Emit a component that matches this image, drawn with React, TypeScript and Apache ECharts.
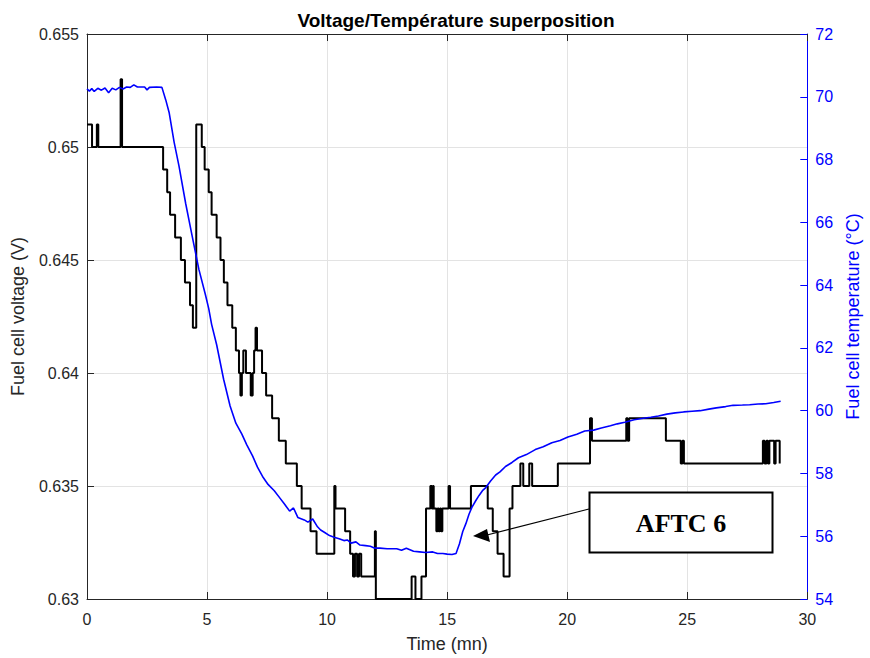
import React, { useEffect, useRef } from "react";
import * as echarts from "echarts";

// Fuel cell voltage (V) — change points (value holds until next time)
const voltTime = [
  0, 0.21, 0.41, 0.47, 1.4, 1.46, 3.17, 3.34, 3.46, 3.67, 3.91, 4.08, 4.29, 4.41,
  4.55, 4.78, 4.9, 5.07, 5.19, 5.4, 5.56, 5.7, 5.85, 6.05, 6.2, 6.33, 6.39, 6.45,
  6.51, 6.62, 6.82, 6.9, 6.96, 7.02, 7.08, 7.29, 7.46, 7.71, 7.99, 8.28, 8.74,
  8.94, 9.31, 9.56, 10.3, 10.35, 10.75, 10.96, 11.08, 11.16, 11.25, 11.33, 11.42,
  11.99, 12.03, 13.52, 13.68, 13.93, 14.12, 14.3, 14.36, 14.4, 14.44, 14.55, 14.6,
  14.65, 14.7, 14.75, 14.8, 15.06, 15.12, 15.99, 16.69, 16.9, 17.1, 17.35, 17.6,
  17.72, 18.05, 18.17, 18.42, 18.54, 19.61, 20.95, 21.03, 22.46, 22.52, 22.58,
  24.11, 24.73, 24.8, 24.86, 28.15, 28.22, 28.3, 28.36, 28.42, 28.62, 28.68,
  28.85, 28.87,
];
const voltValue = [
  0.651, 0.65, 0.651, 0.65, 0.653, 0.65, 0.649, 0.648, 0.647, 0.646, 0.645, 0.644,
  0.643, 0.642, 0.651, 0.65, 0.649, 0.648, 0.647, 0.646, 0.645, 0.644, 0.643,
  0.642, 0.641, 0.64, 0.639, 0.64, 0.641, 0.64, 0.639, 0.64, 0.641, 0.642, 0.641,
  0.64, 0.639, 0.638, 0.637, 0.636, 0.635, 0.634, 0.633, 0.632, 0.635, 0.634,
  0.633, 0.632, 0.631, 0.632, 0.631, 0.632, 0.631, 0.633, 0.63, 0.631, 0.63,
  0.631, 0.634, 0.635, 0.634, 0.635, 0.634, 0.633, 0.634, 0.633, 0.634, 0.633,
  0.634, 0.635, 0.634, 0.635, 0.634, 0.633, 0.632, 0.631, 0.634, 0.635, 0.636,
  0.635, 0.636, 0.635, 0.636, 0.638, 0.637, 0.638, 0.637, 0.638, 0.637, 0.636,
  0.637, 0.636, 0.637, 0.636, 0.637, 0.636, 0.637, 0.636, 0.637, 0.636, 0.636,
];

// Fuel cell temperature (°C)
const tempTime = [
  0, 0.1, 0.2, 0.3, 0.45, 0.6, 0.75, 0.9, 1.05, 1.2, 1.35, 1.5, 1.65, 1.8, 1.95,
  2.1, 2.4, 2.5, 2.6, 2.9, 3.12, 3.28, 3.42, 3.63, 3.83, 4.11, 4.37, 4.66, 4.93,
  5.07, 5.19, 5.4, 5.69, 5.96, 6.2, 6.45, 6.65, 6.9, 7.1, 7.34, 7.54, 7.8, 8.02,
  8.2, 8.44, 8.6, 8.78, 9.05, 9.2, 9.4, 9.6, 9.73, 9.9, 10.1, 10.29, 10.5, 10.7,
  10.84, 11.0, 11.2, 11.37, 11.6, 11.8, 11.99, 12.2, 12.5, 12.9, 13.1, 13.3, 13.6,
  13.85, 14.1, 14.4, 14.6, 14.82, 15.0, 15.2, 15.37, 15.51, 15.65, 15.78, 15.91,
  16.03, 16.19, 16.33, 16.47, 16.61, 16.8, 17.02, 17.2, 17.43, 17.7, 17.97, 18.3,
  18.67, 19.0, 19.36, 19.7, 20.03, 20.4, 20.73, 21.1, 21.42, 21.8, 22.09, 22.4,
  22.79, 23.1, 23.48, 23.8, 24.15, 24.5, 24.85, 25.2, 25.54, 25.9, 26.21, 26.6,
  26.91, 27.3, 27.6, 27.95, 28.27, 28.6, 28.89,
];
const tempValue = [
  70.25, 70.18, 70.26, 70.17, 70.27, 70.21, 70.28, 70.13, 70.27, 70.22, 70.3,
  70.25, 70.31, 70.3, 70.38, 70.31, 70.31, 70.22, 70.3, 70.31, 70.3, 69.9, 69.5,
  68.55, 67.8, 66.6, 65.6, 64.5, 63.7, 63.25, 62.75, 62.1, 61.0, 60.15, 59.6,
  59.25, 58.92, 58.55, 58.2, 57.87, 57.65, 57.45, 57.23, 57.05, 56.8, 56.9, 56.6,
  56.52, 56.45, 56.55, 56.3, 56.2, 56.12, 56.02, 55.97, 55.92, 55.86, 55.88, 55.78,
  55.82, 55.72, 55.7, 55.68, 55.62, 55.62, 55.6, 55.6, 55.55, 55.62, 55.52, 55.5,
  55.48, 55.5, 55.45, 55.45, 55.43, 55.42, 55.45, 55.75, 56.15, 56.4, 56.7, 56.92,
  57.13, 57.3, 57.45, 57.55, 57.75, 57.95, 58.05, 58.22, 58.35, 58.5, 58.6, 58.76,
  58.85, 58.98, 59.05, 59.16, 59.25, 59.35, 59.38, 59.45, 59.52, 59.58, 59.63,
  59.71, 59.75, 59.79, 59.83, 59.89, 59.93, 59.96, 59.98, 60.0, 60.05, 60.09,
  60.13, 60.17, 60.18, 60.19, 60.21, 60.22, 60.26, 60.3,
];

const titleText = "Voltage/Température superposition";
const xName = "Time (mn)";
const yLeftName = "Fuel cell voltage (V)";
const yRightName = "Fuel cell temperature (°C)";
const annotationText = "AFTC 6";

const FONT = "'Liberation Sans', Arial, Helvetica, sans-serif";
const AX = "#262626";
const BLUE = "#0000ff";

export default function App() {
  const ref = useRef<HTMLDivElement>(null);
  useEffect(() => {
    if (!ref.current) return;
    const chart = echarts.init(ref.current, undefined, { renderer: "svg" });
    const tickInside = { inside: true, length: 7, lineStyle: { color: AX, width: 1 } };
    chart.setOption({
      animation: false,
      backgroundColor: "#ffffff",
      textStyle: { fontFamily: FONT },
      title: {
        text: titleText,
        left: 451,
        textAlign: "center",
        top: 6,
        textStyle: { fontSize: 19, fontWeight: "bold", color: "#000", fontFamily: FONT },
      },
      grid: { left: 87, top: 34, width: 728, height: 568, containLabel: false },
      xAxis: [
        {
          type: "value",
          min: 0,
          max: 30,
          interval: 5,
          position: "bottom",
          axisLine: { show: true, lineStyle: { color: AX, width: 1 } },
          axisTick: tickInside,
          axisLabel: { fontSize: 16, color: AX, margin: 12, fontFamily: FONT },
          splitLine: { show: true, lineStyle: { color: "#e3e3e3", width: 1 } },
          name: xName,
          nameLocation: "middle",
          nameGap: 36,
          nameTextStyle: { fontSize: 18, color: AX, fontFamily: FONT },
        },
        {
          type: "value",
          min: 0,
          max: 30,
          interval: 5,
          position: "top",
          axisLine: { show: true, onZero: false, lineStyle: { color: AX, width: 1 } },
          axisTick: tickInside,
          axisLabel: { show: false },
          splitLine: { show: false },
        },
      ],
      yAxis: [
        {
          type: "value",
          min: 0.63,
          max: 0.655,
          interval: 0.005,
          position: "left",
          axisLine: { show: true, onZero: false, lineStyle: { color: AX, width: 1 } },
          axisTick: tickInside,
          axisLabel: {
            fontSize: 16,
            color: AX,
            margin: 8,
            fontFamily: FONT,
            formatter: (v: number) => String(parseFloat(v.toFixed(3))),
          },
          splitLine: { show: true, lineStyle: { color: "#e3e3e3", width: 1 } },
          name: yLeftName,
          nameLocation: "middle",
          nameGap: 60,
          nameRotate: 90,
          nameTextStyle: { fontSize: 18, color: AX, fontFamily: FONT },
        },
        {
          type: "value",
          min: 54,
          max: 72,
          interval: 2,
          position: "right",
          axisLine: { show: true, onZero: false, lineStyle: { color: BLUE, width: 1 } },
          axisTick: { inside: true, length: 7, lineStyle: { color: BLUE, width: 1 } },
          axisLabel: { fontSize: 16, color: BLUE, margin: 8, fontFamily: FONT },
          splitLine: { show: false },
          name: yRightName,
          nameLocation: "middle",
          nameGap: 36,
          nameRotate: 90,
          nameTextStyle: { fontSize: 18, color: BLUE, fontFamily: FONT },
        },
      ],
      series: [
        {
          type: "line",
          name: "Voltage",
          xAxisIndex: 0,
          yAxisIndex: 0,
          step: "end",
          showSymbol: false,
          symbol: "none",
          data: voltTime.map((t, i) => [t, voltValue[i]]),
          lineStyle: { color: "#000000", width: 2 },
          z: 2,
        },
        {
          type: "line",
          name: "Temperature",
          xAxisIndex: 0,
          yAxisIndex: 1,
          showSymbol: false,
          symbol: "none",
          data: tempTime.map((t, i) => [t, tempValue[i]]),
          lineStyle: { color: BLUE, width: 1.6 },
          z: 3,
        },
      ],
      graphic: [
        {
          type: "line",
          shape: { x1: 589, y1: 509, x2: 487, y2: 535 },
          style: { stroke: "#000", lineWidth: 1.2 },
          z: 10,
        },
        {
          type: "polygon",
          shape: { points: [[473, 536], [487, 529], [490, 542]] },
          style: { fill: "#000" },
          z: 10,
        },
        {
          type: "rect",
          shape: { x: 589.5, y: 492.5, width: 183, height: 60 },
          style: { fill: "#fff", stroke: "#000", lineWidth: 2 },
          z: 10,
        },
        {
          type: "text",
          x: 681,
          y: 523,
          style: {
            text: annotationText,
            fill: "#000",
            font: "bold 26px 'Liberation Serif', 'Times New Roman', serif",
            align: "center",
            verticalAlign: "middle",
          },
          z: 11,
        },
      ],
    });
    return () => chart.dispose();
  }, []);
  return (
    <div
      ref={ref}
      style={{ position: "fixed", left: 0, top: 0, width: 870, height: 658, background: "#fff" }}
    />
  );
}
